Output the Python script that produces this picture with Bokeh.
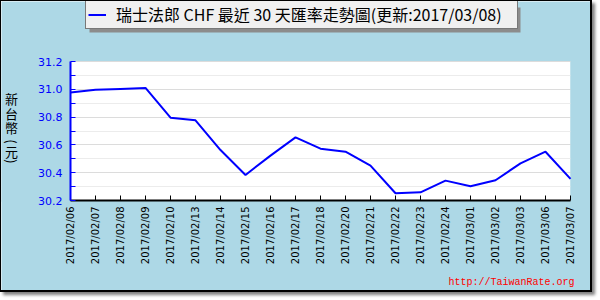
from math import pi
from bokeh.plotting import figure
from bokeh.models import (Legend, LegendItem, Label, BoxAnnotation, FixedTicker,
                          PrintfTickFormatter, Range1d)
from bokeh.embed import file_html
from bokeh.resources import INLINE

dates = ["2017/02/06", "2017/02/07", "2017/02/08", "2017/02/09", "2017/02/10",
         "2017/02/13", "2017/02/14", "2017/02/15", "2017/02/16", "2017/02/17",
         "2017/02/18", "2017/02/20", "2017/02/21", "2017/02/22", "2017/02/23",
         "2017/02/24", "2017/03/01", "2017/03/02", "2017/03/03", "2017/03/06",
         "2017/03/07"]
rates = [30.977, 30.996, 31.003, 31.010, 30.796, 30.777, 30.563, 30.384, 30.523,
         30.654, 30.573, 30.551, 30.451, 30.252, 30.259, 30.343, 30.303, 30.346,
         30.467, 30.551, 30.356]
y_major = [30.2, 30.4, 30.6, 30.8, 31.0, 31.2]
y_minor = [30.3, 30.5, 30.7, 30.9, 31.1]
legend_text = "瑞士法郎 CHF 最近 30 天匯率走勢圖(更新:2017/03/08)"
y_title_chars = ["新", "台", "幣", "(", "元", ")"]
watermark = "http://TaiwanRate.org"

xs = list(range(len(dates)))
X0, X1 = 0, len(dates) - 1
Y0, Y1 = y_major[0], y_major[-1]

# page-pixel -> data helpers (plot area: page x 70..570, y 61..200)
def dx(px):
    return X0 + (px - 70) / 25.0

def dy(py):
    return Y0 + (200 - py) / 139.0

W, H = 592, 292  # canvas (page 1..593, 1..293)
p = figure(width=W, height=H, x_range=Range1d(dx(1), dx(1 + W)),
           y_range=Range1d(dy(1 + H), dy(1)), output_backend="svg",
           toolbar_location=None, min_border=0,
           border_fill_color="#ADD8E6", background_fill_color="#ADD8E6",
           outline_line_color=None)
p.styles = {"border-style": "solid", "border-color": "black",
            "border-width": "1px 2px 2px 1px",
            "box-shadow": "3px 3px 3px #808080"}

# white plotting area (drawn first)
p.add_layout(BoxAnnotation(left=X0, right=X1, bottom=Y0, top=Y1, fill_color="white",
                           fill_alpha=1.0, line_color=None, level="image"))

line = p.line(xs, rates, line_color="#0000FF", line_width=2)

# y axis
ya = p.yaxis[0]
ya.fixed_location = X0
ya.bounds = (Y0, Y1)
ya.ticker = FixedTicker(ticks=y_major, minor_ticks=y_minor)
ya.formatter = PrintfTickFormatter(format="%.1f")
ya.axis_line_color = "#0000FF"
ya.axis_line_width = 2
ya.major_tick_line_color = "#0000FF"
ya.minor_tick_line_color = "#0000FF"
ya.major_tick_in = 5
ya.major_tick_out = 0
ya.minor_tick_in = 5
ya.minor_tick_out = 0
ya.major_label_text_color = "#0000FF"
ya.major_label_text_font = "DejaVu Sans"
ya.major_label_text_font_size = "11px"
ya.major_label_standoff = 8

p.ygrid.grid_line_color = "#dcdcdc"
p.ygrid.minor_grid_line_color = "#ececec"
p.xgrid.visible = False

# cover grid overflow outside plotting area (only over the grid's span)
p.add_layout(BoxAnnotation(right=X0, bottom=Y0 - 0.01, top=Y1 + 0.01,
                           fill_color="#ADD8E6", fill_alpha=1.0,
                           line_color=None, level="underlay"))
p.add_layout(BoxAnnotation(left=X1, bottom=Y0 - 0.01, top=Y1 + 0.01,
                           fill_color="#ADD8E6", fill_alpha=1.0,
                           line_color=None, level="underlay"))

# x axis
xa = p.xaxis[0]
xa.fixed_location = Y0
xa.bounds = (X0, X1)
xa.ticker = FixedTicker(ticks=xs)
xa.major_label_overrides = {i: d for i, d in enumerate(dates)}
xa.major_label_orientation = pi / 2
xa.axis_line_color = "black"
xa.axis_line_width = 2
xa.major_tick_line_color = "black"
xa.major_tick_in = 5
xa.major_tick_out = 0
xa.minor_tick_line_color = None
xa.major_label_text_color = "black"
xa.major_label_text_font = "DejaVu Sans"
xa.major_label_text_font_size = "10px"
xa.major_label_standoff = 6

# legend shadow
p.add_layout(BoxAnnotation(left=dx(89), right=dx(520), top=dy(7), bottom=dy(32),
                           fill_color="#8c8c8c", fill_alpha=1.0, line_color=None))

legend = Legend(items=[LegendItem(label=legend_text, renderers=[line])],
                location=(84, H - 28), margin=0, padding=2, spacing=0,
                glyph_width=18, glyph_height=17, label_height=17,
                label_standoff=10, label_width=399,
                background_fill_color="#f0f0f0",
                background_fill_alpha=1.0, border_line_color="black",
                border_line_width=1, label_text_font="Noto Sans CJK TC",
                label_text_font_size="16px", label_text_color="black")
p.add_layout(legend)

# vertical y title
ys = [98, 113, 127, 141, 151, 161]
for ch, py in zip(y_title_chars, ys):
    ang = -pi / 2 if ch in "()" else 0
    p.add_layout(Label(x=dx(11), y=dy(py), text=ch, angle=ang,
                       text_align="center", text_baseline="middle",
                       text_font="Noto Sans CJK TC", text_font_size="13px",
                       text_color="black"))

p.add_layout(Label(x=dx(574), y=dy(282), text=watermark, text_align="right",
                   text_baseline="middle", text_font="Liberation Mono",
                   text_font_size="10px", text_color="#FF0000"))

open("out.html", "w").write(file_html(p, INLINE))
